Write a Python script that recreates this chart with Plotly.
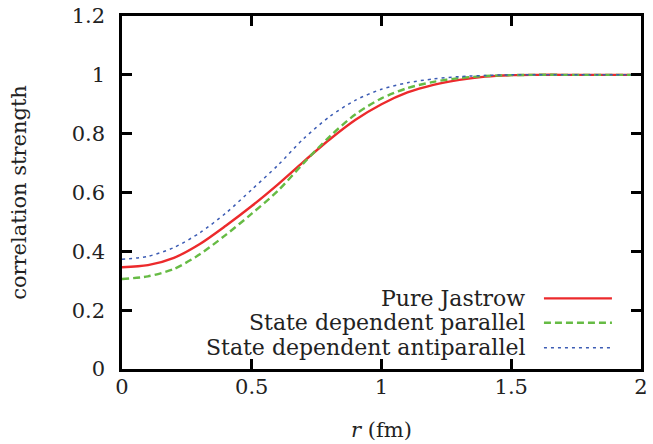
import plotly.graph_objects as go

# values
r_fm = [0.0, 0.1, 0.2, 0.3, 0.4, 0.5, 0.6, 0.7, 0.8, 0.9, 1.0,
        1.1, 1.2, 1.3, 1.4, 1.5, 1.6, 1.7, 1.8, 1.9, 2.0]
pure_jastrow = [0.346, 0.353, 0.378, 0.425, 0.487, 0.554, 0.627, 0.705, 0.780, 0.847, 0.900,
                0.940, 0.966, 0.983, 0.994, 0.999, 1.0, 1.0, 1.0, 1.0, 1.0]
sd_parallel = [0.306, 0.315, 0.340, 0.390, 0.456, 0.528, 0.605, 0.700, 0.790, 0.866, 0.920,
               0.955, 0.976, 0.989, 0.996, 0.999, 1.0, 1.0, 1.0, 1.0, 1.0]
sd_antiparallel = [0.373, 0.383, 0.413, 0.463, 0.530, 0.610, 0.692, 0.783, 0.858, 0.914, 0.951,
                   0.973, 0.986, 0.994, 0.998, 1.0, 1.0, 1.0, 1.0, 1.0, 1.0]

series_names = ["Pure Jastrow", "State dependent parallel", "State dependent antiparallel"]
series_colors = ["#ec2a2c", "#66bb44", "#3c5cb4"]
series_dash = ["solid", "7px,4px", "3px,4px"]
series_width = [2.4, 2.4, 1.5]

x_ticks = [0, 0.5, 1, 1.5, 2]
x_ticklabels = ["0", "0.5", "1", "1.5", "2"]
y_ticks = [0, 0.2, 0.4, 0.6, 0.8, 1.0, 1.2]
y_ticklabels = ["0", "0.2", "0.4", "0.6", "0.8", "1", "1.2"]

font_family = "DejaVu Serif"
text_color = "#222222"

fig = go.Figure()
for name, ys, col, dash, w in zip(series_names, [pure_jastrow, sd_parallel, sd_antiparallel],
                                  series_colors, series_dash, series_width):
    fig.add_trace(go.Scatter(
        x=r_fm, y=ys, mode='lines', name=name,
        line=dict(color=col, dash=dash, width=w, shape='spline', smoothing=0.8),
        showlegend=False
    ))

# gnuplot-style key: text on the left, line sample on the right
row_y = [0.200, 0.131, 0.060]
for name, col, dash, w, yy in zip(series_names, series_colors, series_dash, series_width, row_y):
    fig.add_annotation(x=0.780, y=yy, xref='paper', yref='paper', text=name,
                       showarrow=False, xanchor='right', yanchor='middle',
                       font=dict(family=font_family, size=22, color=text_color))
    fig.add_shape(type='line', xref='paper', yref='paper', x0=0.813, x1=0.944, y0=yy, y1=yy,
                  line=dict(color=col, dash=dash, width=w))

axis_common = dict(
    showgrid=False, zeroline=False, showline=True, linecolor='black', linewidth=2.5,
    mirror='ticks', ticks='inside', ticklen=10, tickwidth=2.5, tickcolor='black',
    tickfont=dict(family=font_family, size=21, color=text_color),
    automargin=False, ticklabeloverflow='allow',
)

fig.update_xaxes(range=[0, 2], tickvals=x_ticks, ticktext=x_ticklabels, ticklabelstandoff=-3,
                 title=dict(text='<i>r</i> (fm)', standoff=25,
                            font=dict(family=font_family, size=21, color=text_color)),
                 **axis_common)
fig.update_yaxes(range=[0, 1.2], tickvals=y_ticks, ticktext=y_ticklabels, ticklabelstandoff=10,
                 title=dict(text='correlation strength', standoff=40,
                            font=dict(family=font_family, size=21, color=text_color)),
                 **axis_common)

fig.update_layout(
    width=653, height=444,
    margin=dict(l=122, r=12, t=16, b=75),
    paper_bgcolor='white', plot_bgcolor='white',
    font=dict(family=font_family, color=text_color),
)

# drop the default 8px page margin so the figure fills the window
fig.write_html("out.html", config={'displayModeBar': False},
               post_script="document.body.style.margin='0px';")
